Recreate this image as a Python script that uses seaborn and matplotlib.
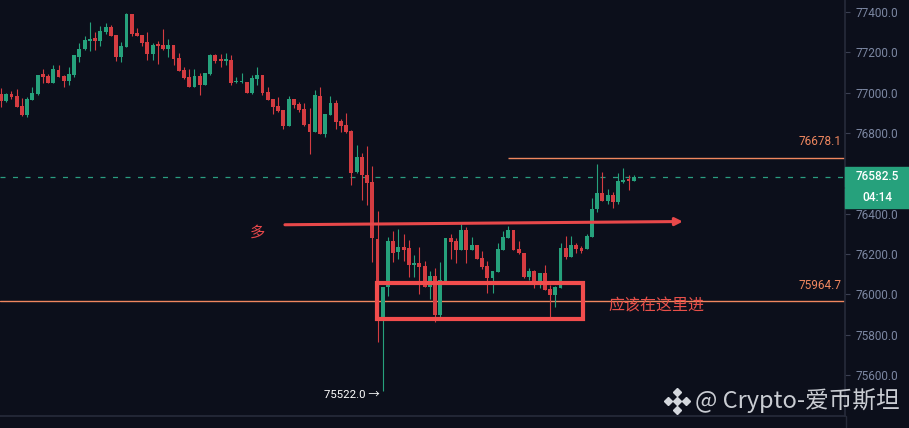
import numpy as np
import pandas as pd
import matplotlib
matplotlib.use("Agg")
import matplotlib.pyplot as plt
import matplotlib.patches as mpatches
import seaborn as sns

# -------------------------------------------------------------
# Candle data (122 candles)
opens = [76993, 76960, 76993, 76983, 76934, 76889, 76964, 76993, 77093, 77083,
         77050, 77112, 77083, 77059, 77088, 77178, 77215, 77258, 77271, 77258,
         77301, 77326, 77286, 77178, 77228, 77390, 77296, 77286, 77251, 77192,
         77241, 77235, 77217, 77236, 77172, 77112, 77078, 77030, 77083, 77040,
         77094, 77187, 77167, 77159, 77162, 77051, 77051, 77053, 77000, 77069,
         77086, 77003, 76968, 76934, 76914, 76835, 76967, 76944, 76919, 76845,
         76806, 76983, 76797, 76889, 76950, 76861, 76840, 76811, 76606, 76683,
         76592, 76557, 76274, 75889, 76038, 76264, 76211, 76235, 76228, 76147,
         76154, 76140, 76038, 76091, 75897, 76068, 76278, 76264, 76220, 76319,
         76220, 76243, 76178, 76140, 76083, 76112, 76220, 76281, 76319, 76225,
         76203, 76084, 76116, 76058, 76104, 76025, 75997, 76033, 76228, 76187,
         76243, 76231, 76226, 76286, 76421, 76501, 76464, 76491, 76458, 76557,
         76572, 76564]
highs = [77021, 76998, 77007, 77016, 76974, 76980, 77026, 77090, 77116, 77093,
         77137, 77135, 77089, 77126, 77189, 77245, 77283, 77350, 77301, 77329,
         77344, 77337, 77288, 77253, 77393, 77392, 77319, 77288, 77301, 77248,
         77256, 77314, 77266, 77238, 77195, 77129, 77117, 77116, 77096, 77098,
         77192, 77192, 77192, 77195, 77187, 77076, 77099, 77055, 77086, 77126,
         77088, 77030, 76970, 76977, 76916, 76983, 76969, 76955, 76947, 76922,
         77013, 77026, 76896, 76983, 76964, 76868, 76897, 76815, 76740, 76699,
         76736, 76638, 76413, 76038, 76283, 76316, 76324, 76297, 76269, 76195,
         76236, 76167, 76117, 76129, 76159, 76280, 76299, 76278, 76347, 76332,
         76283, 76245, 76215, 76167, 76118, 76253, 76314, 76339, 76321, 76266,
         76206, 76129, 76121, 76106, 76145, 76046, 76040, 76253, 76291, 76289,
         76256, 76240, 76299, 76476, 76646, 76605, 76524, 76506, 76600, 76625,
         76592, 76592]
lows = [76931, 76955, 76970, 76927, 76885, 76881, 76962, 76988, 77050, 77048,
        77048, 77076, 77030, 77036, 77076, 77152, 77212, 77208, 77212, 77233,
        77291, 77281, 77159, 77154, 77226, 77281, 77281, 77233, 77162, 77162,
        77142, 77212, 77178, 77137, 77105, 77068, 77028, 77028, 76988, 77036,
        77086, 77145, 77129, 77137, 77038, 77050, 77049, 76999, 76993, 77040,
        76988, 76962, 76892, 76906, 76820, 76833, 76922, 76904, 76836, 76697,
        76804, 76795, 76782, 76887, 76820, 76806, 76798, 76544, 76604, 76468,
        76445, 76162, 75765, 75522, 75992, 76162, 76175, 76167, 76088, 76088,
        76002, 76036, 75978, 75864, 75889, 76066, 76175, 76157, 76218, 76157,
        76218, 76173, 76124, 76008, 76008, 76110, 76218, 76278, 76218, 76200,
        76082, 76071, 76030, 76030, 76019, 75889, 75939, 76031, 76173, 76185,
        76203, 76203, 76224, 76284, 76410, 76462, 76448, 76430, 76448, 76554,
        76517, 76562]
closes = [76960, 76992, 76980, 76931, 76889, 76969, 76997, 77088, 77078, 77050,
          77117, 77079, 77059, 77093, 77187, 77217, 77261, 77266, 77258, 77306,
          77324, 77283, 77178, 77231, 77390, 77291, 77283, 77248, 77192, 77236,
          77231, 77217, 77236, 77169, 77107, 77074, 77030, 77083, 77040, 77096,
          77187, 77159, 77159, 77167, 77050, 77054, 77058, 77000, 77073, 77088,
          77000, 76964, 76930, 76909, 76835, 76967, 76939, 76914, 76841, 76806,
          76988, 76797, 76894, 76950, 76856, 76835, 76806, 76603, 76683, 76592,
          76554, 76278, 76054, 76038, 76264, 76207, 76235, 76220, 76145, 76157,
          76137, 76038, 76091, 75897, 76071, 76278, 76261, 76220, 76319, 76220,
          76243, 76175, 76137, 76083, 76116, 76225, 76283, 76319, 76220, 76203,
          76084, 76116, 76058, 76104, 76021, 75997, 76038, 76228, 76187, 76243,
          76225, 76216, 76289, 76421, 76501, 76464, 76491, 76458, 76560, 76567,
          76562, 76582.5]

# Levels and annotations
last_price = 76582.5
resistance = 76678.1
support = 75964.7
low_label = 75522.0
# 76600.0 sits under the current price tag, so it is not listed
price_ticks = [75600, 75800, 76000, 76200, 76400, 76800, 77000, 77200, 77400]
countdown = "04:14"
entry_box = (71.9, 111.3, 75877, 76056)      # candle index from/to, price low/high
arrow_from = (54.3, 76345)
arrow_to = (130.4, 76361)
resistance_start = 97

df = pd.DataFrame({"open": opens, "high": highs, "low": lows, "close": closes})
df["x"] = np.arange(len(df))
df["up"] = df["close"] >= df["open"]

# -------------------------------------------------------------
bg = "#0c0f1b"
green = "#26a17c"
red = "#d43c41"
orange = "#f0875f"
box_red = "#f24d4d"

sns.set_theme(style="dark", rc={"axes.facecolor": bg, "figure.facecolor": bg})
plt.rcParams["font.family"] = ["Roboto", "Noto Sans CJK SC", "DejaVu Sans"]

fig = plt.figure(figsize=(9.09, 4.28), dpi=100)
ax = fig.add_axes([0, 12 / 428, 845 / 909, 416 / 428])
ax.set_facecolor(bg)

ax.set_xlim(-0.19, 161.4)
ax.set_ylim(75396.6, 77459.5)
ppu = (77459.5 - 75396.6) / 416   # price units per pixel

# candles
colors = np.where(df["up"], green, red)
ax.vlines(df["x"], df["low"], df["high"], colors=colors, lw=0.8, zorder=2)
body = (df["close"] - df["open"]).abs().clip(lower=ppu * 1.2)
bottom = df[["open", "close"]].min(axis=1)
ax.bar(df["x"], body, bottom=bottom, width=0.74, color=colors, linewidth=0, zorder=3)

# horizontal levels
ax.axhline(last_price, color="#2a9d80", lw=0.9, ls=(0, (4, 6)), zorder=1)
ax.hlines(resistance, resistance_start, 161.4, color=orange, lw=1.0, zorder=1)
ax.axhline(support, color=orange, lw=1.0, zorder=1)
ax.text(842 / 845, resistance + 16 * ppu, f"{resistance:.1f}", transform=ax.get_yaxis_transform(),
        ha="right", va="center", color=orange, fontsize=8.5)
ax.text(842 / 845, support + 16 * ppu, f"{support:.1f}", transform=ax.get_yaxis_transform(),
        ha="right", va="center", color=orange, fontsize=8.5)

# entry box and arrow
x0, x1, y0, y1 = entry_box
ax.add_patch(mpatches.Rectangle((x0, y0), x1 - x0, y1 - y0, fill=False,
                                edgecolor=box_red, lw=3, zorder=4))
ax.annotate("", xy=arrow_to, xytext=arrow_from,
            arrowprops=dict(arrowstyle="-|>", color="#e8484a", lw=2.2,
                            mutation_scale=11, shrinkA=0, shrinkB=0), zorder=4)
ax.text(49.1, 76309, "多", color="#e8484a", fontsize=11, ha="center", va="center",
        family=["Noto Sans CJK SC", "DejaVu Sans"])
ax.text(125.4, 75942, "应该在这里进", color="#e8504a", fontsize=11.5, ha="center", va="center",
        family=["Noto Sans CJK SC", "DejaVu Sans"])

# lowest price label
low_idx = int(df["low"].idxmin())
ax.text(low_idx - 0.6, low_label - 4 * ppu, f"{low_label:.1f} →", color="white",
        fontsize=8.2, ha="right", va="center")

# right price axis
ax.yaxis.tick_right()
ax.set_yticks(price_ticks)
ax.set_yticklabels([f"{p:.1f}" for p in price_ticks])
ax.tick_params(axis="y", direction="out", length=3.5, width=0.8, color="#3b4052",
               labelcolor="#7c87a2", labelsize=8.5, pad=4)
ax.set_xticks([])
for side in ["top", "left"]:
    ax.spines[side].set_visible(False)
ax.spines["right"].set_color("#262a39")
ax.spines["bottom"].set_color("#262a39")
ax.grid(False)
fig.add_artist(plt.Line2D([845.5 / 909, 845.5 / 909], [0, 12 / 428], color="#262a39",
                          lw=1, transform=fig.transFigure))

# current price tags
yt = ax.get_yaxis_transform()
ax.add_patch(mpatches.Rectangle((1.0, last_price - 10 * ppu), 64 / 845, 20 * ppu,
                                transform=yt, color=green, clip_on=False, zorder=5))
ax.add_patch(mpatches.Rectangle((1.0, last_price - 31 * ppu), 64 / 845, 20 * ppu,
                                transform=yt, color=green, clip_on=False, zorder=5))
ax.text(877 / 845, last_price, f"{last_price:.1f}", transform=yt, color="white",
        fontsize=8.5, fontweight="medium", ha="center", va="center", zorder=6, clip_on=False)
ax.text(877 / 845, last_price - 21 * ppu, countdown, transform=yt, color="white",
        fontsize=8.5, fontweight="medium", ha="center", va="center", zorder=6, clip_on=False)

# watermark
fig.text(900 / 909, 1 - 401 / 428, "@ Crypto-爱币斯坦", color="#d4d7dd", fontsize=17,
         ha="right", va="center", family=["Noto Sans CJK SC", "DejaVu Sans"], alpha=0.95)
lx, ly = 677 / 909, 1 - 401 / 428
dx, dy = 9 / 909, 9 / 428
fig.add_artist(plt.Line2D([lx], [ly], marker="D", ms=4.5, color="#d4d7dd", transform=fig.transFigure))
for ox, oy in [(-dx, 0), (dx, 0), (0, dy), (0, -dy)]:
    fig.add_artist(plt.Line2D([lx + ox], [ly + oy], marker="D", ms=4, color="#d4d7dd",
                              transform=fig.transFigure))

plt.savefig("out.png", dpi=100, facecolor=bg)
